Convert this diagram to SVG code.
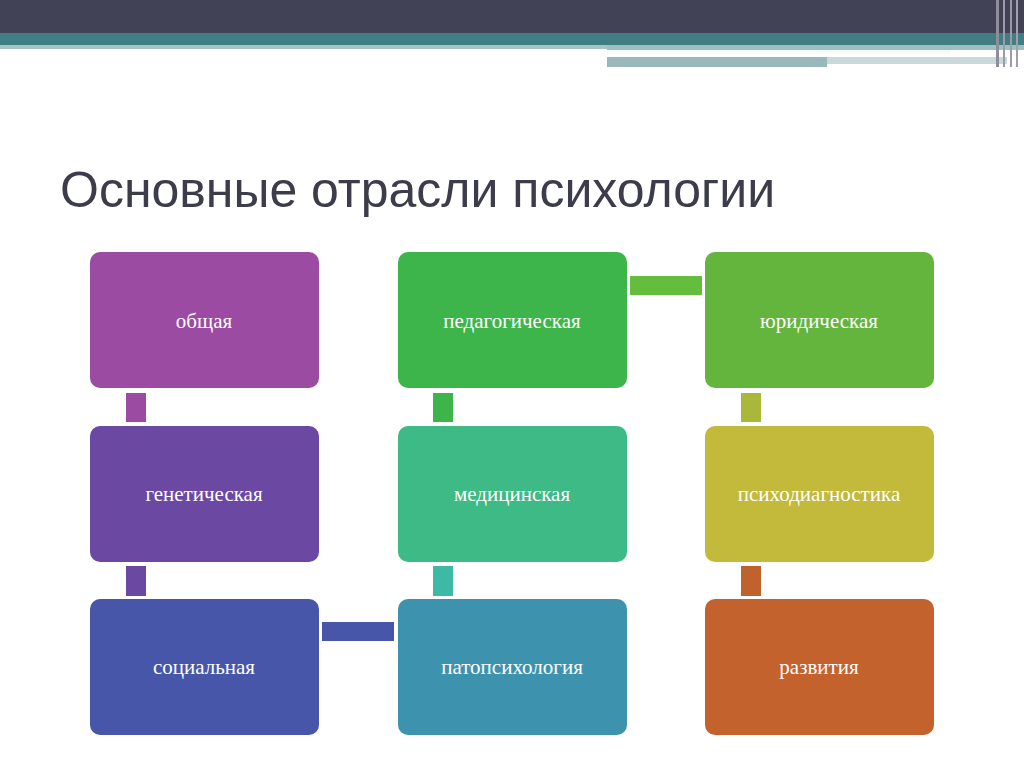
<svg xmlns="http://www.w3.org/2000/svg" width="1024" height="767" viewBox="0 0 1024 767">
<style>
.n{font-family:"Liberation Serif",serif;font-size:21px;fill:#ffffff;text-anchor:middle}
</style>
<rect width="1024" height="767" fill="#ffffff"/>
<g id="header">
<rect x="0" y="0" width="1024" height="33" fill="#424257"/>
<rect x="0" y="33" width="1024" height="12" fill="#417e83"/>
<rect x="0" y="45" width="607" height="4" fill="#a8c3c5"/>
<rect x="607" y="45" width="417" height="5" fill="#9fc0c2"/>
<rect x="607" y="50" width="343" height="4" fill="#f4fbfb"/>
<rect x="607" y="57" width="220" height="10" fill="#9ab7bb"/>
<rect x="827" y="57" width="180" height="7" fill="#c9d9da"/>
<rect x="996" y="0" width="3" height="67" fill="#8d8d9c"/>
<rect x="1003" y="0" width="2" height="67" fill="#9a9aa8"/>
<rect x="1010" y="0" width="2" height="67" fill="#9a9aa8"/>
<rect x="1016" y="0" width="2" height="67" fill="#a0a0ad"/>
</g>
<text x="60" y="207" font-family="Liberation Sans, sans-serif" font-size="50" fill="#3c3c4a">Основные отрасли психологии</text>
<g id="connectors">
<rect x="126" y="393" width="20" height="29" fill="#9c4ba3"/>
<rect x="126" y="566" width="20" height="30" fill="#6b49a3"/>
<rect x="322" y="622" width="72" height="19" fill="#4756a8"/>
<rect x="433" y="393" width="20" height="29" fill="#3db54a"/>
<rect x="433" y="566" width="20" height="30" fill="#3dbaa3"/>
<rect x="630" y="276" width="72" height="19" fill="#64bd3d"/>
<rect x="741" y="393" width="20" height="29" fill="#a9b83b"/>
<rect x="741" y="566" width="20" height="30" fill="#c0622e"/>
</g>
<g id="n1"><rect x="90" y="252" width="229" height="136" rx="10" fill="#9c4ba3"/><text class="n" x="204" y="328">общая</text></g>
<g id="n2"><rect x="90" y="426" width="229" height="136" rx="10" fill="#6b49a3"/><text class="n" x="204" y="501">генетическая</text></g>
<g id="n3"><rect x="90" y="599" width="229" height="136" rx="10" fill="#4756a8"/><text class="n" x="204" y="674">социальная</text></g>
<g id="n4"><rect x="398" y="252" width="229" height="136" rx="10" fill="#3db54a"/><text class="n" x="512" y="328">педагогическая</text></g>
<g id="n5"><rect x="398" y="426" width="229" height="136" rx="10" fill="#3dba86"/><text class="n" x="512" y="501">медицинская</text></g>
<g id="n6"><rect x="398" y="599" width="229" height="136" rx="10" fill="#3d93ad"/><text class="n" x="512" y="674">патопсихология</text></g>
<g id="n7"><rect x="705" y="252" width="229" height="136" rx="10" fill="#64b53d"/><text class="n" x="819" y="328">юридическая</text></g>
<g id="n8"><rect x="705" y="426" width="229" height="136" rx="10" fill="#c3b93a"/><text class="n" x="819" y="501">психодиагностика</text></g>
<g id="n9"><rect x="705" y="599" width="229" height="136" rx="10" fill="#c4622e"/><text class="n" x="819" y="674">развития</text></g>
</svg>
